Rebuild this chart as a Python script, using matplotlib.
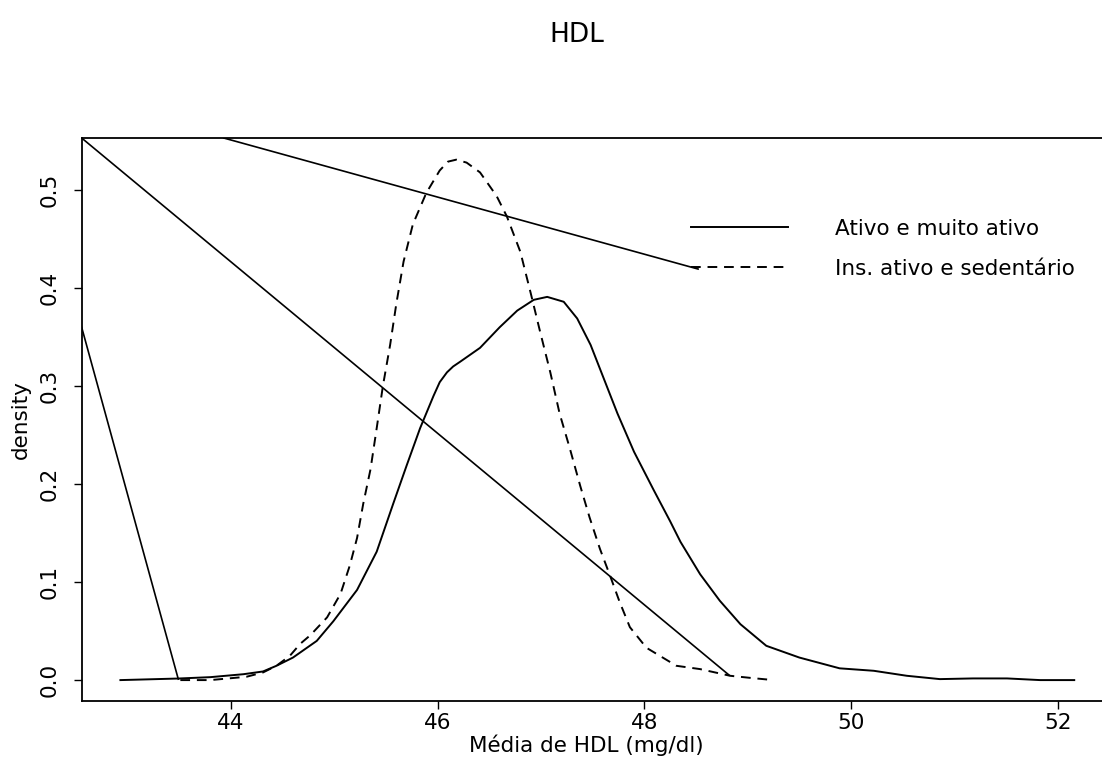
import matplotlib
matplotlib.use("Agg")
import matplotlib.pyplot as plt

# density curve, "Ativo e muito ativo" (solid)
ativo_x = [42.93, 43.49, 43.80, 44.12, 44.31, 44.44, 44.60, 44.83, 44.99, 45.22,
           45.41, 45.57, 45.70, 45.83, 45.96, 46.02, 46.09, 46.15, 46.22, 46.41,
           46.60, 46.77, 46.93, 47.06, 47.22, 47.35, 47.48, 47.61, 47.74, 47.90,
           48.09, 48.25, 48.35, 48.54, 48.73, 48.93, 49.18, 49.50, 49.89, 50.22,
           50.54, 50.86, 51.18, 51.51, 51.83, 52.16]
ativo_y = [0.000, 0.0016, 0.003, 0.006, 0.0088, 0.0146, 0.023, 0.040, 0.060, 0.092,
           0.131, 0.180, 0.219, 0.257, 0.290, 0.304, 0.314, 0.320, 0.325, 0.339,
           0.360, 0.377, 0.388, 0.391, 0.386, 0.369, 0.342, 0.307, 0.272, 0.233,
           0.194, 0.162, 0.141, 0.108, 0.081, 0.057, 0.035, 0.023, 0.012, 0.0095,
           0.0044, 0.001, 0.0017, 0.0017, 0.000, 0.000]

# density curve, "Ins. ativo e sedentário" (dashed)
ins_x = [43.51, 43.80, 44.15, 44.31, 44.44, 44.57, 44.67, 44.77, 44.93, 45.06,
         45.15, 45.22, 45.28, 45.35, 45.41, 45.47, 45.54, 45.60, 45.67, 45.76,
         45.89, 46.02, 46.10, 46.18, 46.28, 46.41, 46.57, 46.67, 46.80, 46.90,
         46.99, 47.09, 47.18, 47.28, 47.38, 47.47, 47.57, 47.67, 47.76, 47.86,
         48.02, 48.31, 48.54, 48.83, 49.05, 49.25]
ins_y = [0.000, 0.000, 0.0034, 0.0078, 0.0146, 0.0248, 0.037, 0.046, 0.064, 0.088,
         0.117, 0.145, 0.180, 0.215, 0.257, 0.300, 0.342, 0.384, 0.427, 0.465,
         0.497, 0.520, 0.529, 0.531, 0.528, 0.518, 0.494, 0.473, 0.437, 0.395,
         0.356, 0.314, 0.272, 0.236, 0.198, 0.166, 0.134, 0.106, 0.080, 0.054,
         0.033, 0.0146, 0.0112, 0.0044, 0.002, 0.000]

# stray connecting segments present in the original figure
stray_segments = [
    ([42.555, 48.82], [0.5531, 0.0051]),
    ([42.555, 43.49], [0.360, 0.001]),
    ([43.93, 48.52], [0.5531, 0.4194]),
]

labels = ["Ativo e muito ativo", "Ins. ativo e sedentário"]
x_ticks = [44, 46, 48, 50, 52]
y_ticks = [0.0, 0.1, 0.2, 0.3, 0.4, 0.5]

plt.rcParams['font.family'] = ['DejaVu Sans']

fig = plt.figure(figsize=(11.02, 7.65), dpi=100)
ax = fig.add_axes([0.0741, 0.0837, 0.9354, 0.7359])

lw = 1.4
l1, = ax.plot(ativo_x, ativo_y, color='black', lw=lw)
l2, = ax.plot(ins_x, ins_y, color='black', lw=lw, dashes=(5, 3.5))
for sx, sy in stray_segments:
    ax.plot(sx, sy, color='black', lw=1.2)

ax.set_xlim(42.555, 52.53)
ax.set_ylim(-0.0213, 0.5531)
ax.set_xticks(x_ticks)
ax.set_xticklabels([str(v) for v in x_ticks])
ax.set_yticks(y_ticks)
ax.set_yticklabels([f'{v:.1f}' for v in y_ticks], rotation=90, va='center')
ax.tick_params(direction='out', length=6, width=1, labelsize=15.5, color='black')
ax.tick_params(axis='x', pad=3)
ax.tick_params(axis='y', pad=10)
for s in ax.spines.values():
    s.set_linewidth(1.3)

ax.set_xlabel('Média de HDL (mg/dl)', fontsize=15.5)
ax.xaxis.set_label_coords(0.49, -0.06)
ax.set_ylabel('density', fontsize=15.5)
ax.yaxis.set_label_coords(-0.049, 0.5)

leg = ax.legend([l1, l2], labels, loc='upper left', bbox_to_anchor=(0.591, 0.857),
                frameon=False, fontsize=15.5, handlelength=4.5, handletextpad=2.2,
                labelspacing=0.95, borderpad=0, borderaxespad=0)

fig.text(577 / 1102, (765 - 35) / 765, 'HDL', fontsize=19, ha='center', va='center')

fig.savefig('out.png', dpi=100)
